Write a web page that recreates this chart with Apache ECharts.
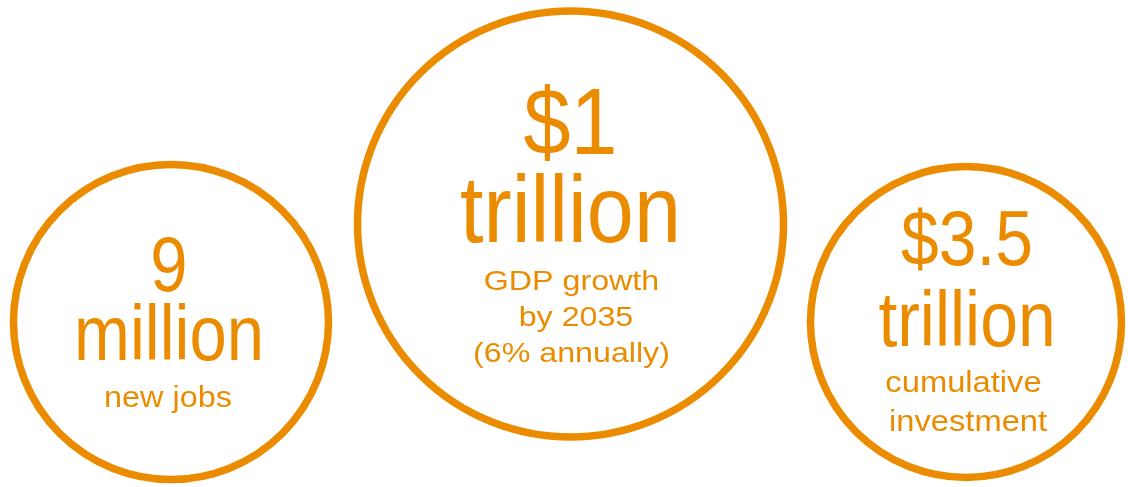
<!DOCTYPE html>
<html><head><meta charset="utf-8">
<script src="https://cdn.jsdelivr.net/npm/echarts@6/dist/echarts.min.js"></script>
<style>html,body{margin:0;padding:0;background:#fff}#c{width:1128px;height:487px}</style>
</head><body><div id="c"></div>
<script>
const categories = ['Jobs', 'GDP', 'Investment'];
const headlines = ['9', '$1', '$3.5'];
const units = ['million', 'trillion', 'trillion'];
const captions = [['new jobs'], ['GDP growth', ' by 2035', '(6% annually)'], ['cumulative', ' investment']];

const ORANGE = '#EB8C00';
const FONT = '"Liberation Sans", Arial, Helvetica, sans-serif';
// layout (styling only): circle size/offset, text sizes, horizontal squeeze/stretch, baseline offsets from circle centre
const layout = [
  {size: 315, off: [0, 0],   big: 77, bigSx: 0.87, bigDx: -2,   bigBase: [-28, 41],
   cap: 30, capSx: 1.08, capDx: -3,  capBase: [86]},
  {size: 426, off: [2, -98], big: 95, bigSx: 0.89, bigDx: 0,    bigBase: [-67, 21],
   cap: 28, capSx: 1.15, capDx: 1,   capBase: [67, 103, 139]},
  {size: 311, off: [0, 0],   big: 78, bigSx: 0.87, bigDx: 1,    bigBase: [-54, 27],
   cap: 30, capSx: 1.09, capDx: -2.5, capBase: [71, 110]}
];
const MID = 0.31; // canvas 'middle' sits about 0.31em above the alphabetic baseline

const chart = echarts.init(document.getElementById('c'), null, {renderer: 'canvas'});
chart.setOption({
  animation: false,
  grid: {left: 171, right: 162, top: 157, bottom: 0},
  xAxis: {type: 'category', data: categories, boundaryGap: false, show: false},
  yAxis: {type: 'value', min: -1, max: 1, show: false},
  series: [{
    type: 'scatter',
    clip: false,
    symbol: 'circle',
    itemStyle: {color: 'rgba(255,255,255,0)', borderColor: ORANGE, borderWidth: 7.5, opacity: 1},
    emphasis: {disabled: true},
    label: {show: false},
    data: categories.map((c, i) => ({
      value: [c, 0],
      symbolSize: layout[i].size,
      symbolOffset: layout[i].off
    }))
  }]
});

const graphics = [];
categories.forEach((c, i) => {
  const L = layout[i];
  const p = chart.convertToPixel({xAxisIndex: 0, yAxisIndex: 0}, [c, 0]);
  const cx = p[0] + L.off[0], cy = p[1] + L.off[1];
  [headlines[i], units[i]].forEach((t, k) => {
    graphics.push({
      type: 'text', silent: true,
      x: cx + L.bigDx, y: cy + L.bigBase[k] - MID * L.big,
      scaleX: L.bigSx,
      style: {text: t, fill: ORANGE, fontSize: L.big, fontFamily: FONT, align: 'center', verticalAlign: 'middle'}
    });
  });
  captions[i].forEach((t, k) => {
    graphics.push({
      type: 'text', silent: true,
      x: cx + L.capDx, y: cy + L.capBase[k] - MID * L.cap,
      scaleX: L.capSx,
      style: {text: t, fill: ORANGE, fontSize: L.cap, fontFamily: FONT, align: 'center', verticalAlign: 'middle'}
    });
  });
});
chart.setOption({graphic: graphics});
</script></body></html>
